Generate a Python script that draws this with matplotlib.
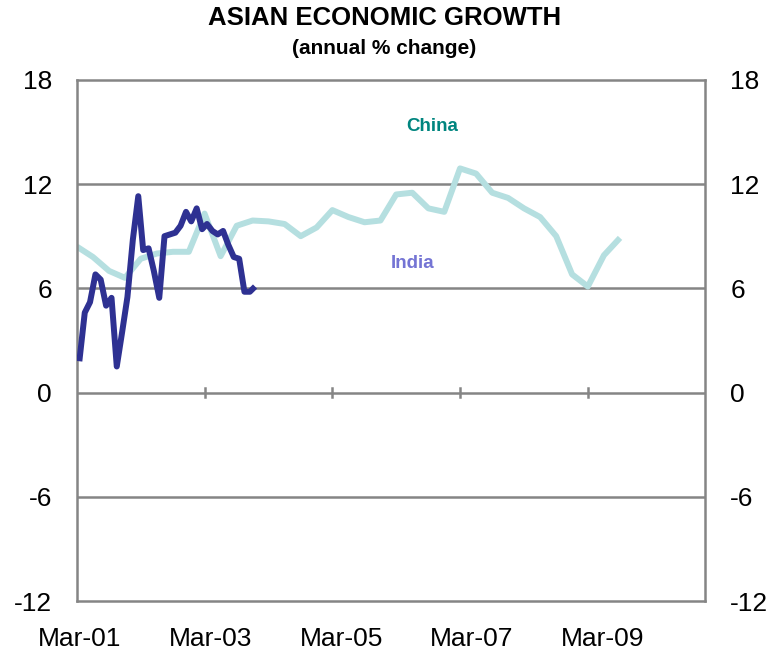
import matplotlib
matplotlib.use("Agg")
import matplotlib.pyplot as plt
import matplotlib.transforms as mtransforms
import pandas as pd

plt.rcParams['font.family'] = ['Liberation Sans', 'DejaVu Sans']

# China GDP, year-ended % change, quarterly Mar-01 .. Sep-09
china_growth = [8.4, 7.8, 7.0, 6.6, 7.7, 8.0, 8.1, 8.1, 10.3, 7.85,
                9.6, 9.9, 9.85, 9.7, 9.0, 9.5, 10.5, 10.1, 9.8, 9.9,
                11.4, 11.5, 10.6, 10.4, 12.9, 12.6, 11.5, 11.2, 10.6, 10.1,
                9.0, 6.8, 6.1, 7.9, 8.9]
china_dates = pd.date_range('2001-03-01', '2009-09-01', freq='QS-MAR')

# India, year-ended % change, monthly Mar-01 .. Dec-03
india_growth = [1.8, 4.6, 5.2, 6.8, 6.5, 5.0, 5.45, 1.5, 3.5, 5.5,
                8.8, 11.3, 8.2, 8.3, 7.0, 5.45, 9.0, 9.1, 9.2, 9.6,
                10.4, 9.85, 10.6, 9.4, 9.7, 9.3, 9.1, 9.3, 8.5, 7.8,
                7.7, 5.8, 5.8, 6.1]
india_dates = pd.date_range('2001-03-01', '2003-12-01', freq='MS') + pd.Timedelta(days=14)

yticks = [-12, -6, 0, 6, 12, 18]
xtick_dates = pd.to_datetime(['2001-03-01', '2003-03-01', '2005-03-01', '2007-03-01', '2009-03-01'])
xtick_labels = ['Mar-01', 'Mar-03', 'Mar-05', 'Mar-07', 'Mar-09']

grey = '#858585'
china_col = '#b5dfe0'
india_col = '#2e3192'

fig = plt.figure(figsize=(7.69, 6.54), dpi=100)
ax = fig.add_axes([0.100, 0.081, 0.817, 0.797])

ax.set_ylim(-12, 18)
ax.set_xlim(pd.Timestamp('2001-03-01'), pd.Timestamp('2011-01-01'))

# horizontal grid
for y in [-6, 0, 6, 12]:
    ax.axhline(y, color=grey, lw=1.8, zorder=1)

# small ticks crossing the zero line
for d in xtick_dates[1:]:
    ax.plot([d, d], [-0.25, 0.25], color=grey, lw=1.8, zorder=1)

ax.plot(china_dates, china_growth, color=china_col, lw=4.3,
        solid_joinstyle='round', solid_capstyle='butt', zorder=2)
ax.plot(india_dates, india_growth, color=india_col, lw=4.3,
        solid_joinstyle='round', solid_capstyle='butt', zorder=3)

for s in ax.spines.values():
    s.set_color(grey)
    s.set_linewidth(1.8)

ax.set_yticks(yticks)
ax.set_yticklabels([str(v) for v in yticks])
ax.tick_params(axis='y', length=0, labelsize=19, pad=18,
               labelleft=True, labelright=True)

ax.set_xticks(xtick_dates)
ax.set_xticklabels(xtick_labels)
ax.tick_params(axis='x', length=0, labelsize=19, pad=19)
# category labels drift slightly right of their tick marks
for i, lbl in enumerate(ax.get_xticklabels()):
    shift = mtransforms.ScaledTranslation((3 + 2.9 * i) / 100, 0, fig.dpi_scale_trans)
    lbl.set_transform(lbl.get_transform() + shift)

ax.text(pd.Timestamp('2006-09-20'), 15.3, 'China', color='#00857f',
        fontsize=13.5, fontweight='bold', ha='center', va='center')
ax.text(pd.Timestamp('2006-06-01'), 7.4, 'India', color='#7474d4',
        fontsize=13.5, fontweight='bold', ha='center', va='center')

fig.text(0.5, 0.972, 'ASIAN ECONOMIC GROWTH', ha='center', va='center',
         fontsize=18.5, fontweight='bold')
fig.text(0.5, 0.926, '(annual % change)', ha='center', va='center',
         fontsize=15, fontweight='bold')

fig.savefig('out.png', dpi=100)
